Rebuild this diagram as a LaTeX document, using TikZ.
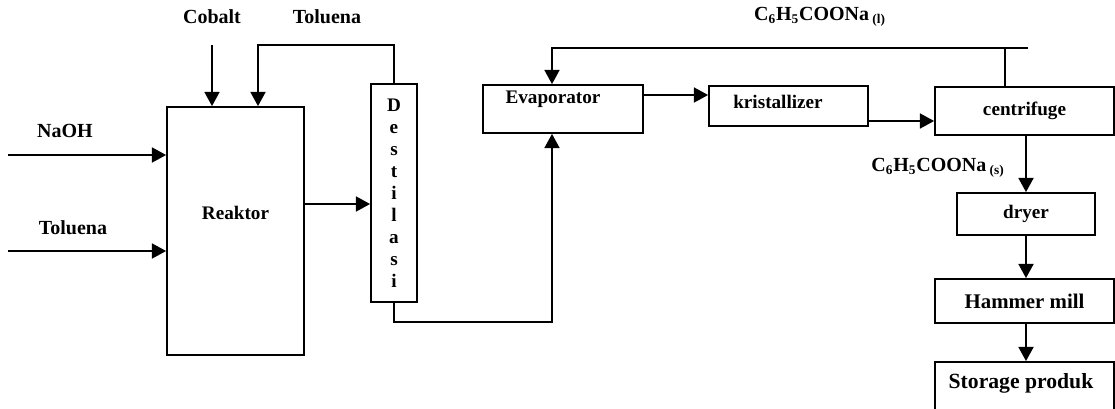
\documentclass[tikz,border=0pt]{standalone}
\usepackage{fontspec}
\setmainfont{Liberation Serif}
\usetikzlibrary{positioning,arrows.meta}

\tikzset{
  unit/.style={draw,line width=1.1pt,inner sep=0pt,font=\fontsize{11.5}{13.2}\selectfont\bfseries},
  unittxt/.style={inner sep=0pt,font=\fontsize{11.5}{13.2}\selectfont\bfseries},
  lbl/.style={inner sep=0pt,font=\fontsize{12}{14}\selectfont\bfseries},
  flow/.style={line width=1.1pt,-{Triangle[length=8.5pt,width=9pt]}},
  line/.style={line width=1.1pt}
}

\begin{document}
\begin{tikzpicture}[x=0.6pt,y=-0.6pt]
\useasboundingbox (0,0) rectangle (1115,408);
\clip (0,0) rectangle (1115,408);

% Units
\node[unit,minimum width=82.2pt,minimum height=148.8pt] (reaktor) at (235.5,231) {};
\node[unittxt] (reaktortxt) at (235.5,213) {Reaktor};
\node[unit,minimum width=27.6pt,minimum height=130.8pt,align=center] (destilasi) at (394,193) {D\\e\\s\\t\\i\\l\\a\\s\\i};
\node[unit,minimum width=96pt,minimum height=28.8pt] (evaporator) at (563,109) {};
\node[unittxt] (evaporatortxt) at (553,99) {Evaporator};
\node[unit,minimum width=95.4pt,minimum height=24pt] (kristallizer) at (788.5,106) {};
\node[unittxt] (kristallizertxt) at (778,102) {kristallizer};
\node[unit,minimum width=107.4pt,minimum height=28.8pt] (centrifuge) at (1024.5,111) {centrifuge};
\node[unit,minimum width=82.8pt,minimum height=25.2pt] (dryer) at (1026,214) {dryer};
\node[unit,minimum width=107.4pt,minimum height=26.4pt,font=\fontsize{12.5}{14}\selectfont\bfseries] (hammer) at (1024.5,301) {Hammer mill};
\node[unit,minimum width=107.4pt,minimum height=36pt] (storage) at (1024.5,392) {};
\node[inner sep=0pt,font=\fontsize{13}{15}\selectfont\bfseries] (storagetxt) at (1021,383) {Storage produk};

% Labels
\node[lbl] (naoh) at (65,131) {NaOH};
\node[lbl] (toluenain) at (73,228) {Toluena};
\node[lbl] (cobalt) at (212,17) {Cobalt};
\node[lbl] (toluenaret) at (327,17) {Toluena};
\node[lbl] (liquid) at (820,17) {C\textsubscript{6}H\textsubscript{5}COONa\,\textsubscript{(l)}};
\node[lbl] (solid) at (938,168) {C\textsubscript{6}H\textsubscript{5}COONa\,\textsubscript{(s)}};

% Feeds
\coordinate (naohin) at (8,155);
\coordinate (tolin) at (8,251);
\coordinate (cobaltin) at (212,45);
\draw[flow] (naohin) -- (naohin -| reaktor.west);
\draw[flow] (tolin) -- (tolin -| reaktor.west);
\draw[flow] (cobaltin) -- (cobaltin |- reaktor.north);

% Reaktor - Destilasi
\coordinate (rkout) at ([yshift=16.2pt]reaktor.east);
\draw[flow] (rkout) -- (rkout -| destilasi.west);
\coordinate (tolturn) at (258,45);
\draw[flow] (destilasi.north) |- (tolturn) -- (tolturn |- reaktor.north);
\coordinate (dsturn) at (552,322);
\draw[flow] (destilasi.south) |- (dsturn) -- (dsturn |- evaporator.south);

% Main line
\coordinate (evout) at ([yshift=8.4pt]evaporator.east);
\draw[flow] (evout) -- (evout -| kristallizer.west);
\coordinate (krout) at ([yshift=-9pt]kristallizer.east);
\draw[flow] (krout) -- (krout -| centrifuge.west);
\draw[flow] (dryer.north |- centrifuge.south) -- (dryer.north);
\draw[flow] (dryer.south) -- (dryer.south |- hammer.north);
\draw[flow] (dryer.south |- hammer.south) -- (dryer.south |- storage.north);

% Mother liquor recycle
\coordinate (cfret) at (1005,48);
\coordinate (retend) at (1028,48);
\coordinate (evtop) at (552,48);
\draw[line] (cfret |- centrifuge.north) -- (cfret);
\draw[flow] (retend) -- (evtop) -- (evtop |- evaporator.north);
\end{tikzpicture}
\end{document}
